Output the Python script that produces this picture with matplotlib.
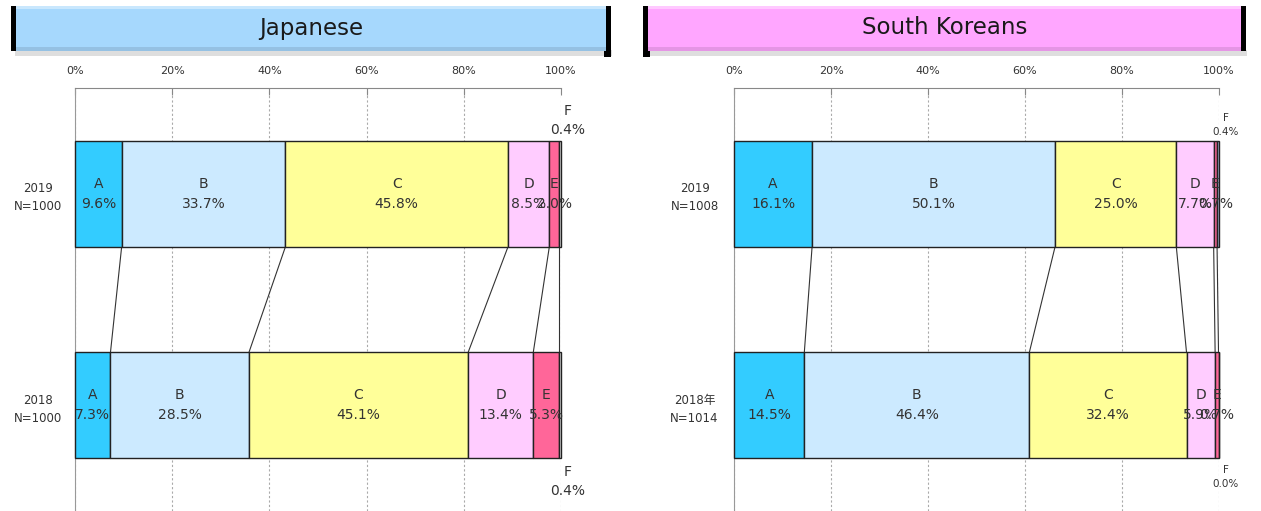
import matplotlib
matplotlib.use('Agg')
import matplotlib.pyplot as plt
from matplotlib.patches import Rectangle
from matplotlib.ticker import FuncFormatter

plt.rcParams['font.family'] = ['DejaVu Sans', 'Noto Sans CJK JP']

segments = ['A', 'B', 'C', 'D', 'E', 'F']

jp_groups = ['2019\nN=1000', '2018\nN=1000']
jp_2019 = [9.6, 33.7, 45.8, 8.5, 2.0, 0.4]
jp_2018 = [7.3, 28.5, 45.1, 13.4, 5.3, 0.4]

kr_groups = ['2019\nN=1008', '2018年\nN=1014']
kr_2019 = [16.1, 50.1, 25.0, 7.7, 0.7, 0.4]
kr_2018 = [14.5, 46.4, 32.4, 5.9, 0.7, 0.0]

jp_colors = ['#33ccff', '#cceaff', '#ffff99', '#ffccff', '#ff6699', '#f2f2f2']
kr_colors = ['#33ccff', '#cceaff', '#ffff99', '#ffccff', '#ff6699', '#9fb8dc']

TXT = '#333333'
W, H = 1261, 511
fig = plt.figure(figsize=(W / 100, H / 100), dpi=100)


def fig_rect(x0, y0, x1, y1, **kw):
    # rectangle given in pixel coordinates, y measured from the top
    r = Rectangle((x0 / W, 1 - y1 / H), (x1 - x0) / W, (y1 - y0) / H,
                  transform=fig.transFigure, **kw)
    fig.add_artist(r)


def banner(x0, x1, face, title, corner):
    # soft drop shadow, dark side edges and bevelled face
    fig_rect(x0 + 4, 50, x1 + 1, 56, facecolor='#c8c8c8', edgecolor='none', alpha=0.6)
    fig_rect(x0, 6, x1, 51, facecolor='black', edgecolor='none')
    if corner == 'right':
        fig_rect(x1 - 7, 40, x1, 57, facecolor='black', edgecolor='none')
    else:
        fig_rect(x0, 40, x0 + 7, 57, facecolor='black', edgecolor='none')
    fig_rect(x0 + 5, 6, x1 - 5, 51, facecolor=face, edgecolor='none')
    fig_rect(x0 + 5, 6, x1 - 5, 9, facecolor='white', edgecolor='none', alpha=0.4)
    fig_rect(x0 + 5, 47, x1 - 5, 51, facecolor='black', edgecolor='none', alpha=0.1)
    fig.text((x0 + x1) / 2 / W, 1 - 28 / H, title, ha='center', va='center',
             fontsize=16.5, color='#1a1a1a')


def panel(x0, x1, groups, rows, colors, f_size, ylab_pad):
    ax = fig.add_axes([x0 / W, 0, (x1 - x0) / W, (H - 88) / H])
    ax.set_xlim(0, 100)
    ax.set_ylim(1.502, -0.502)

    cums = []
    for i, vals in enumerate(rows):
        left = 0
        cum = []
        for seg, v, c in zip(segments, vals, colors):
            ax.barh(i, v, left=left, height=0.5, color=c, edgecolor='#222222',
                    linewidth=1, clip_on=False, zorder=3)
            if seg != 'F':
                ax.text(left + v / 2, i, f'{seg}\n{v:.1f}%', ha='center', va='center',
                        fontsize=10, color=TXT, linespacing=1.6, zorder=4)
            else:
                if i == 0:
                    ax.annotate(f'F\n{v:.1f}%', (100, i - 0.25), xytext=(5, 3),
                                textcoords='offset points', ha='center', va='bottom',
                                fontsize=f_size, color=TXT, linespacing=1.5,
                                annotation_clip=False)
                else:
                    ax.annotate(f'F\n{v:.1f}%', (100, i + 0.25), xytext=(5, -5),
                                textcoords='offset points', ha='center', va='top',
                                fontsize=f_size, color=TXT, linespacing=1.5,
                                annotation_clip=False)
            left += v
            cum.append(left)
        cums.append(cum)

    # series lines between the two years
    for k in range(len(segments) - 1):
        ax.plot([cums[0][k], cums[1][k]], [0.25, 0.75], color='#333333',
                linewidth=0.8, zorder=2)

    ax.set_yticks([0, 1])
    ax.set_yticklabels(groups, multialignment='center', fontsize=8.5, color=TXT,
                       linespacing=1.5)
    ax.tick_params(axis='y', length=0, pad=ylab_pad)

    ax.xaxis.tick_top()
    ax.set_xticks(range(0, 101, 20))
    ax.xaxis.set_major_formatter(FuncFormatter(lambda v, p: f'{v:.0f}%'))
    ax.tick_params(axis='x', direction='in', length=5, color='#888888',
                   labelsize=8, labelcolor=TXT, pad=9)
    ax.grid(axis='x', color='#aaaaaa', linestyle=(0, (2, 2)), linewidth=0.8, zorder=0)

    for s in ('right', 'bottom'):
        ax.spines[s].set_visible(False)
    ax.spines['top'].set_color('#888888')
    ax.spines['left'].set_color('#999999')
    ax.patch.set_alpha(0)
    return ax


banner(11, 611, '#a6d8fd', 'Japanese', 'right')
banner(643, 1246, '#ffa6ff', 'South Koreans', 'left')

panel(75, 561, jp_groups, [jp_2019, jp_2018], jp_colors, 10, 9)
panel(734, 1219, kr_groups, [kr_2019, kr_2018], kr_colors, 7.5, 11)

fig.savefig('out.png', dpi=100)
